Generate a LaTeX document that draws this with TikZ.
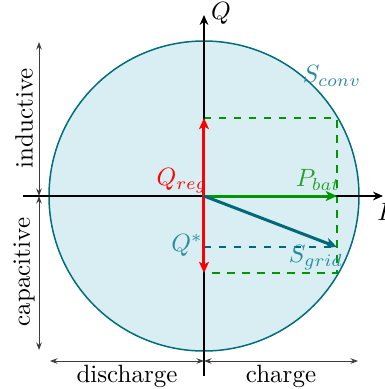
\documentclass[tikz,border=0pt]{standalone}
\usetikzlibrary{arrows.meta}
\definecolor{circfill}{RGB}{216,238,243}
\definecolor{circline}{RGB}{0,110,122}
\definecolor{sgridc}{RGB}{0,104,122}
\definecolor{labteal}{RGB}{40,140,160}
\definecolor{pgreen}{RGB}{0,150,0}
\definecolor{labgreen}{RGB}{40,160,40}
\definecolor{dimgray}{RGB}{60,60,60}
\tikzset{
  axis/.style={line width=0.8pt,-{Stealth[length=4pt,width=3.5pt]}},
  vec/.style={line width=1.2pt,-{Stealth[length=4.5pt,width=4pt,inset=1.2pt]}},
  dim/.style={line width=0.35pt,dimgray,{Stealth[length=3pt,width=2.2pt]}-{Stealth[length=3pt,width=2.2pt]}},
  guide/.style={dashed,line width=0.45pt}
}
\begin{document}
\begin{tikzpicture}[x=0.4pt,y=-0.4pt]
\useasboundingbox (0,0) rectangle (385,389);
\coordinate (O) at (204,196);
\fill[circfill] (O) circle (155);
\draw[circline,line width=0.6pt] (O) circle (155);
% guides
\coordinate (A) at (204,118);
\coordinate (B) at (337,118);
\coordinate (C) at (337,273);
\coordinate (D) at (204,273);
\coordinate (E) at (337,247);
\coordinate (F) at (204,247);
\draw[guide,pgreen] (A) -- (B) -- (C) -- (D);
\draw[guide,sgridc] (F) -- (E);
% axes
\coordinate (PL) at (23,196);
\coordinate (PR) at (383,196);
\coordinate (QB) at (204,376);
\coordinate (QT) at (204,15);
\draw[axis] (PL) -- (PR);
\draw[axis] (QB) -- (QT);
\node[anchor=west,inner sep=0pt] (Plab) at (377,212) {$P$};
\node[inner sep=0pt] (Qlab) at (221,13) {$Q$};
% vectors
\coordinate (Qup) at (204,118);
\coordinate (Qdn) at (204,273);
\coordinate (Pend) at (337,196);
\draw[vec,red] (O) -- (Qup);
\draw[vec,red] (O) -- (Qdn);
\draw[vec,pgreen] (O) -- (Pend);
\draw[vec,sgridc] (O) -- (E);
% labels
\node[labteal,inner sep=0pt] (Sconv) at (332,76) {$S_{conv}$};
\node[red,inner sep=0pt] (Qreg) at (182,181) {$Q_{reg}$};
\node[labgreen,inner sep=0pt] (Pbat) at (318,180) {$P_{bat}$};
\node[labteal,inner sep=0pt] (Sgrid) at (316,258) {$S_{grid}$};
\node[labteal,inner sep=0pt] (Qstar) at (187,245) {$Q^{*}$};
% dimension arrows
\coordinate (L1) at (39,42);
\coordinate (L2) at (39,196);
\coordinate (L3) at (39,350);
\draw[dim] (L1) -- (L2);
\draw[dim] (L2) -- (L3);
\coordinate (H1) at (50,361);
\coordinate (H2) at (204,361);
\coordinate (H3) at (358,361);
\draw[dim] (H1) -- (H2);
\draw[dim] (H2) -- (H3);
\node[rotate=90,inner sep=0pt] (ind) at (24,118) {inductive};
\node[rotate=90,inner sep=0pt] (cap) at (24,272) {capacitive};
\node[inner sep=0pt] (dis) at (127,376) {discharge};
\node[inner sep=0pt] (chg) at (281,376) {charge};
\end{tikzpicture}
\end{document}
